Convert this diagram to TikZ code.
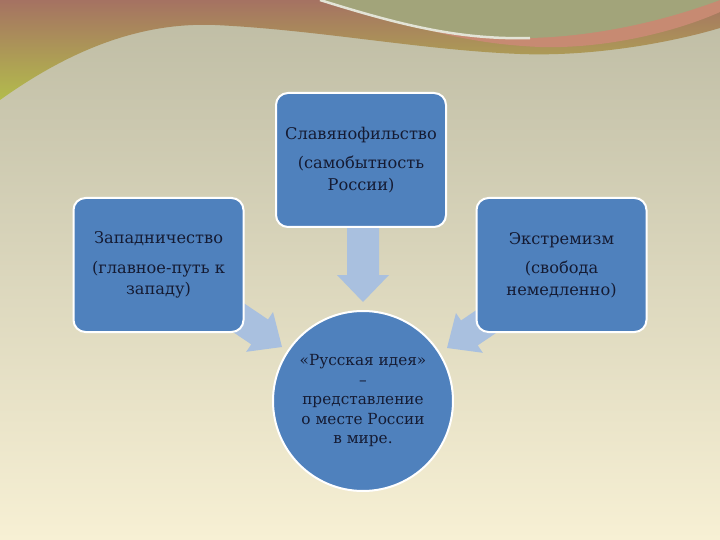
\documentclass[tikz,border=0pt]{standalone}
\usepackage{fontspec}
\setmainfont{DejaVu Serif}
\definecolor{bgtop}{HTML}{BEBCA4}
\definecolor{bgbot}{HTML}{F7F0D4}
\definecolor{boxblue}{HTML}{4F81BD}
\definecolor{txt}{HTML}{151B33}
\definecolor{arr}{HTML}{A9C0DF}
\definecolor{decred}{HTML}{A57262}
\definecolor{decgreen}{HTML}{B3BC4C}
\definecolor{decpink}{HTML}{C78A72}
\definecolor{decgrey}{HTML}{A2A47A}
\tikzset{
  blk/.style={draw=white, line width=2pt, fill=boxblue, rounded corners=12pt,
    minimum width=170pt, minimum height=134pt, align=center, text=txt,
    font=\fontsize{16.2}{21.5}\selectfont, inner sep=2pt},
  rnd/.style={draw=white, line width=2pt, fill=boxblue, circle,
    minimum size=180pt, align=center, text=txt,
    font=\fontsize{15.3}{19.5}\selectfont, inner sep=0pt},
  fatarrow/.style={fill=arr, draw=none}
}
\begin{document}
\begin{tikzpicture}[x=1pt,y=-1pt]
\useasboundingbox (0,0) rectangle (720,540);
\shade[top color=bgtop, bottom color=bgbot] (0,0) rectangle (720,540);
% top decoration
\shade[top color=decred, bottom color=decgreen]
  (0,0) -- (0,100) .. controls (70,50) and (140,22) .. (215,25)
  .. controls (320,30) and (420,50) .. (520,54)
  .. controls (600,57) and (680,40) .. (720,28) -- (720,0) -- cycle;
\fill[decpink] (330,0) .. controls (420,30) and (470,44) .. (540,47)
  .. controls (610,49) and (680,30) .. (720,12) -- (720,0) -- cycle;
\fill[decgrey] (320,0) .. controls (400,25) and (460,40) .. (530,38)
  .. controls (610,36) and (680,15) .. (720,0) -- cycle;
\draw[line width=2.5pt, color=white!70!decgrey]
  (320,0) .. controls (400,25) and (460,40) .. (530,38);
% arrows
\begin{scope}[shift={(363,302)}, rotate=-90]
  \fill[fatarrow] (0,0) -- (-27,26) -- (-27,16) -- (-76,16) -- (-76,-16) -- (-27,-16) -- (-27,-26) -- cycle;
\end{scope}
\begin{scope}[shift={(282,347)}, rotate=-34]
  \fill[fatarrow] (0,0) -- (-27,24) -- (-27,15) -- (-75,15) -- (-75,-15) -- (-27,-15) -- (-27,-24) -- cycle;
\end{scope}
\begin{scope}[shift={(447,348)}, rotate=-146]
  \fill[fatarrow] (0,0) -- (-27,24) -- (-27,15) -- (-75,15) -- (-75,-15) -- (-27,-15) -- (-27,-24) -- cycle;
\end{scope}
% nodes
\node[blk] (slav) at (361,160) {Славянофильство\\[8pt](самобытность\\России)};
\node[blk] (zap) at (158.5,265) {Западничество\\[8pt](главное-путь к\\западу)};
\node[blk] (ext) at (561.5,265) {Экстремизм\\[8pt](свобода\\немедленно)};
\node[rnd] (rus) at (363,401) {«Русская идея»\\–\\представление\\о месте России\\в мире.};
\end{tikzpicture}
\end{document}
